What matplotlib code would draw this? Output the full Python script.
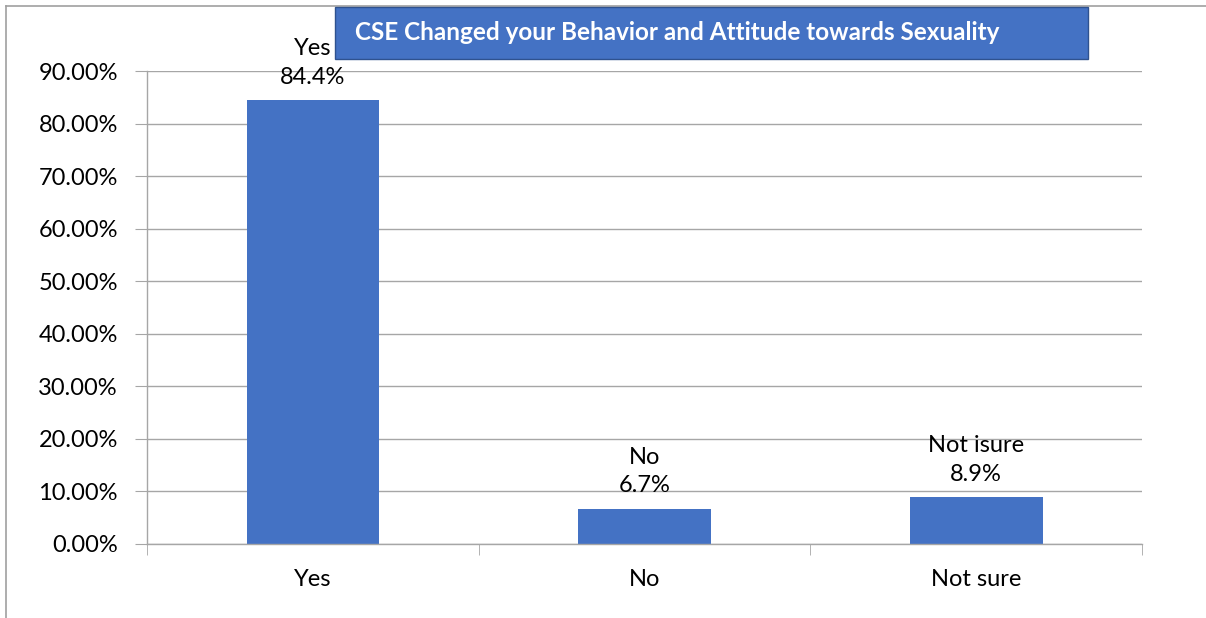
import matplotlib.pyplot as plt
from matplotlib.lines import Line2D
from matplotlib.patches import Rectangle

categories = ["Yes", "No", "Not sure"]
label_names = ["Yes", "No", "Not isure"]
values = [0.844, 0.067, 0.089]
y_ticks = [0.0, 0.1, 0.2, 0.3, 0.4, 0.5, 0.6, 0.7, 0.8, 0.9]
title = "CSE Changed your Behavior and Attitude towards Sexuality"

bar_color = "#4472C4"
grid_color = "#A6A6A6"
font = "Lato"

fig = plt.figure(figsize=(12.06, 6.18), dpi=100)
ax = fig.add_axes([147 / 1206, 1 - 544 / 618, (1142 - 147) / 1206, (544 - 71) / 618])

x = range(len(categories))
ax.bar(x, values, width=0.4, color=bar_color, zorder=2)
ax.set_xlim(-0.5, 2.5)
ax.set_ylim(0, 0.9)

ax.set_yticks(y_ticks)
ax.set_yticklabels([f"{t * 100:.2f}%" for t in y_ticks], fontsize=17, family=font)
ax.set_xticks(list(x))
ax.set_xticklabels(categories, fontsize=17, family=font)
ax.tick_params(axis="x", length=0, pad=18)
ax.tick_params(axis="y", length=9, color=grid_color, pad=12)

# category boundary ticks on the x axis
ax.set_xticks([-0.5, 0.5, 1.5, 2.5], minor=True)
ax.tick_params(axis="x", which="minor", length=8, color=grid_color)

ax.yaxis.grid(True, color=grid_color, linewidth=1.0, zorder=0)
ax.set_axisbelow(True)
for side in ["top", "right"]:
    ax.spines[side].set_visible(False)
for side in ["left", "bottom"]:
    ax.spines[side].set_color(grid_color)
    ax.spines[side].set_linewidth(1.0)

# data labels: category name and value above each bar
for i, (name, v) in enumerate(zip(label_names, values)):
    ax.annotate(f"{name}\n{v * 100:.1f}%", (i, v), xytext=(0, 9),
                textcoords="offset points", ha="center", va="bottom",
                fontsize=17, family=font, linespacing=1.45, zorder=3)

# title box
fig.patches.append(Rectangle((335 / 1206, 1 - 59 / 618), (1088 - 335) / 1206, 52 / 618,
                             transform=fig.transFigure, facecolor=bar_color,
                             edgecolor="#2F528F", linewidth=1.0, zorder=5))
fig.text(355 / 1206, 1 - 33 / 618, title, color="white", fontsize=17.5,
         fontweight="bold", family=font, ha="left", va="center", zorder=6)

# chart frame
fig.add_artist(Line2D([5.5 / 1206, 5.5 / 1206], [0, 1 - 5.5 / 618], color="#A0A0A0",
                      linewidth=1.2, transform=fig.transFigure))
fig.add_artist(Line2D([5.5 / 1206, 1], [1 - 5.5 / 618, 1 - 5.5 / 618], color="#A0A0A0",
                      linewidth=1.2, transform=fig.transFigure))

fig.savefig("out.png", dpi=100)
